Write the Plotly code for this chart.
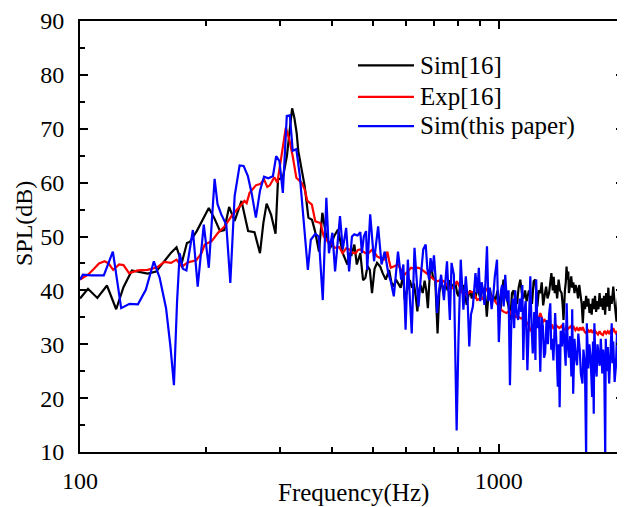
import plotly.graph_objects as go
import math

# ---------------- data ----------------
sim16_freq = [100, 104.5, 110, 116, 122, 127, 133, 139, 145, 152, 159, 165, 170, 175, 180, 183, 190, 197, 203, 209,
              216, 221, 227, 234, 243, 252, 261, 269, 274, 279, 286, 293, 297, 305, 312, 318, 321, 325, 329, 332,
              338, 344, 351, 358, 364, 368, 372, 379, 386, 396, 404, 413, 419, 424, 435, 440, 445, 452, 458, 467,
              474, 480, 486, 492, 498, 505, 512, 521, 528, 537, 547, 554, 561, 568, 575, 583, 591, 596, 604, 613,
              620, 627, 633, 639, 645, 650, 658, 665, 671, 677, 687, 696, 705, 714, 721, 728, 737, 746, 755, 765,
              773, 781, 788, 795, 801, 808, 815, 822, 830, 838, 846, 854, 862, 871, 880, 889, 896, 903, 912, 922,
              929, 936, 944, 952, 961, 970, 980, 993, 1001, 1009, 1017, 1026, 1035, 1045, 1055, 1065, 1075, 1085, 1095, 1105,
              1115, 1125, 1135, 1145, 1155, 1165, 1180, 1190, 1200, 1211, 1222, 1230, 1236, 1246, 1256, 1266, 1276, 1286, 1297, 1307,
              1318, 1327, 1335, 1345, 1352, 1360, 1368, 1378, 1389, 1400, 1412, 1420, 1427, 1438, 1445, 1451, 1458, 1465, 1470, 1479,
              1489, 1497, 1506, 1516, 1525, 1535, 1546, 1556, 1567, 1577, 1587, 1597, 1606, 1616, 1626, 1636, 1646, 1656, 1666, 1676,
              1686, 1697, 1707, 1718, 1729, 1740, 1750, 1761, 1772, 1783, 1794, 1804, 1815, 1826, 1837, 1848, 1860, 1876, 1888, 1899,
              1910, 1920, 1933, 1945, 1956, 1968, 1980, 1995]
sim16_spl = [38.5, 40.3, 38.6, 40.9, 36.5, 40.6, 43.7, 43.4, 43.1, 43.5, 45.5, 47.0, 48.0, 45.1, 48.8, 49.0, 51.0, 53.2, 55.3, 53.5,
             51.0, 51.2, 55.5, 52.9, 56.6, 51.0, 50.8, 46.9, 52.5, 56.1, 54.0, 50.5, 60.6, 60.9, 65.0, 71.0, 73.8, 72.0, 69.3, 65.9,
             62.5, 59.3, 53.5, 53.1, 51.0, 49.4, 47.2, 54.4, 50.7, 47.9, 50.0, 51.3, 49.0, 46.9, 44.8, 46.8, 46.6, 48.5, 44.8, 46.9,
             41.9, 42.3, 44.5, 43.8, 39.5, 44.0, 45.1, 44.4, 43.2, 42.0, 43.8, 41.5, 40.7, 42.0, 41.3, 40.5, 43.0, 38.3, 40.0, 41.9,
             40.5, 41.3, 39.0, 36.1, 40.0, 41.0, 39.5, 41.8, 40.0, 36.7, 45.4, 42.5, 41.9, 32.0, 39.5, 41.8, 40.0, 41.2, 40.0, 41.9,
             40.5, 41.2, 41.3, 39.5, 38.9, 40.5, 39.8, 41.0, 39.5, 37.3, 39.0, 40.0, 38.5, 39.8, 38.5, 41.0, 39.5, 38.6, 40.0, 40.3,
             38.8, 35.1, 39.0, 40.2, 38.5, 39.0, 38.0, 40.0, 38.5, 36.1, 39.5, 42.0, 39.0, 38.5, 37.0, 34.5, 39.5, 40.0, 38.0, 37.5,
             40.5, 42.0, 39.5, 38.5, 40.0, 38.0, 40.0, 38.5, 37.5, 41.7, 42.0, 39.0, 37.0, 40.0, 39.5, 41.5, 37.2, 39.0, 40.7, 38.5,
             39.5, 41.5, 43.2, 40.0, 42.5, 39.5, 41.0, 38.5, 42.0, 40.0, 39.5, 37.5, 34.5, 40.0, 41.5, 44.4, 42.0, 43.5, 39.5, 41.0,
             42.6, 40.5, 41.5, 39.5, 41.0, 40.3, 38.5, 41.0, 39.5, 37.5, 33.9, 38.0, 36.5, 39.0, 37.0, 38.5, 35.8, 37.5, 35.5, 38.5,
             36.5, 39.0, 36.0, 38.0, 36.5, 39.5, 37.0, 38.5, 36.4, 39.0, 35.5, 39.5, 37.0, 40.5, 36.2, 39.0, 37.5, 40.7, 38.0, 36.0,
             34.2, 37.5, 40.0, 40.7, 37.5, 39.5, 38.9, 38.5]

exp16_freq = [100, 104.5, 108, 111, 114.5, 117, 120, 124, 127, 131, 137.5, 145, 153, 159, 165, 170, 175, 181, 189.5, 195,
              198.5, 206, 213.6, 221.6, 230, 238.5, 243, 247, 250, 254, 263, 270, 275, 280, 284, 291, 296, 301, 306, 310,
              316, 322, 328.5, 338, 344, 349, 357.8, 364.6, 375, 382, 393, 397, 405, 416, 423.5, 432, 439.5, 447, 455, 461,
              467, 474, 480, 490, 499, 505, 512, 521, 531, 537, 542, 547, 552, 563, 574, 584, 595, 606, 617, 628,
              640, 651, 662, 675, 687, 700, 712, 726, 739, 752, 764, 775, 784, 794, 808, 823, 840, 855, 871, 888,
              902, 915, 925, 936, 944, 952, 968, 986, 1000, 1014, 1028, 1043, 1060, 1072, 1086, 1100, 1112, 1130, 1143, 1156,
              1170, 1180, 1190, 1200, 1212, 1225, 1236, 1246, 1256, 1266, 1276, 1287, 1297, 1310, 1326, 1340, 1352, 1365, 1379, 1395,
              1412, 1425, 1436, 1450, 1465, 1482, 1497, 1510, 1523, 1536, 1550, 1562, 1575, 1587, 1600, 1616, 1630, 1645, 1660, 1675,
              1690, 1707, 1725, 1740, 1755, 1772, 1788, 1805, 1820, 1835, 1850, 1865, 1876, 1890, 1905, 1927, 1945, 1960, 1980, 1995]
exp16_spl = [42.0, 42.9, 44.0, 45.0, 45.4, 45.0, 43.8, 44.8, 44.7, 43.2, 43.7, 43.8, 44.3, 45.3, 45.1, 45.7, 44.4, 45.2, 45.6, 46.9,
             48.5, 49.1, 50.7, 51.9, 53.8, 55.3, 55.9, 56.6, 56.2, 58.1, 59.5, 59.8, 60.6, 59.2, 59.5, 61.0, 60.0, 64.0, 67.0, 70.2,
             68.0, 64.9, 60.9, 60.0, 58.7, 56.6, 55.9, 52.8, 52.5, 50.0, 48.8, 49.0, 47.9, 48.0, 46.9, 47.8, 47.6, 47.0, 46.9, 47.5,
             47.6, 47.2, 46.9, 47.0, 47.6, 47.0, 46.3, 46.0, 45.7, 45.8, 47.2, 45.5, 44.2, 44.5, 44.8, 43.8, 42.9, 43.5, 44.2, 44.0,
             44.2, 44.0, 43.6, 43.0, 42.6, 42.0, 41.7, 41.9, 41.7, 41.0, 40.4, 40.4, 41.0, 41.7, 40.5, 39.2, 39.3, 39.8, 39.6, 38.2,
             38.5, 38.4, 39.5, 40.4, 39.8, 39.2, 38.5, 37.6, 37.0, 36.4, 36.0, 35.8, 36.2, 35.5, 35.8, 35.0, 35.1, 34.8, 35.0, 34.5,
             33.8, 33.5, 32.4, 33.0, 33.8, 34.5, 35.1, 34.8, 35.8, 35.0, 34.2, 34.5, 34.2, 33.8, 33.3, 33.5, 32.8, 33.6, 33.3, 33.0,
             33.4, 32.8, 32.7, 33.3, 32.9, 33.3, 32.8, 33.2, 32.6, 33.0, 32.5, 33.1, 32.6, 33.2, 32.4, 32.0, 32.8, 32.2, 32.7, 32.1,
             32.6, 32.3, 31.8, 32.4, 31.9, 31.7, 32.5, 32.0, 32.4, 31.9, 32.6, 32.2, 33.0, 32.4, 32.0, 32.6, 32.2, 32.7, 32.3, 32.5]

simpaper_freq = [100, 101.6, 106.4, 114, 119.8, 125.4, 131.3, 137.5, 143.6, 150.1, 155, 160.5, 164.4, 167.6, 170.5, 173, 176, 179.5, 186, 191,
                 197.5, 203, 209.6, 213, 217.4, 223.5, 228.5, 234, 240.5, 245.8, 251.7, 257, 263, 269, 275, 281.6, 288.8, 294, 299.4, 305,
                 311.7, 317, 322, 328.5, 334.9, 341.2, 350, 355.7, 364.6, 371.5, 379.9, 387.4, 393, 400.5, 406.5, 417.6, 424, 432, 439, 446,
                 451.8, 460, 467, 471, 476, 482, 485, 493, 503.6, 515, 524.8, 534, 544.5, 552, 561.4, 574.5, 584.6, 591.6, 598.9, 606.4,
                 619.5, 629, 636, 643, 652, 660, 669, 675, 681.6, 687, 694, 700, 706, 712, 720, 728, 739.5, 752, 764, 771,
                 781, 793, 801, 811, 823, 834, 842, 850, 858, 867, 879.5, 888, 896, 903, 910, 917, 924, 937, 944, 952,
                 961, 970, 978, 990, 1000, 1006, 1012, 1018, 1027, 1036, 1045, 1055, 1063, 1072, 1080, 1088, 1094, 1103, 1112, 1122,
                 1131, 1138, 1144, 1151, 1159, 1170, 1178, 1189, 1197, 1205, 1215, 1223, 1228, 1236, 1247, 1256, 1265, 1274, 1282, 1290,
                 1300, 1310, 1318, 1327, 1334, 1340, 1350, 1363, 1372, 1383, 1390, 1397, 1405, 1415, 1425, 1435, 1444, 1452, 1460, 1470,
                 1480, 1490, 1497, 1505, 1516, 1525, 1537, 1548, 1560, 1570, 1584, 1592, 1605, 1616, 1622, 1635, 1645, 1655, 1662, 1670,
                 1678, 1685, 1691, 1700, 1712, 1720, 1727, 1740, 1752, 1766, 1775, 1785, 1795, 1800, 1810, 1820, 1834, 1845, 1860, 1868,
                 1876, 1890, 1903, 1915, 1927, 1938, 1945, 1953, 1962, 1970, 1980, 1995]
simpaper_spl = [42.0, 42.9, 42.8, 42.8, 47.2, 36.7, 37.5, 37.4, 40.1, 45.4, 42.3, 36.7, 29.6, 22.4, 37.9, 46.9, 44.0, 43.7, 51.2, 40.7,
                52.2, 44.2, 60.7, 56.0, 54.1, 52.2, 41.4, 57.5, 63.2, 63.1, 61.2, 58.0, 53.5, 58.5, 61.1, 60.8, 61.2, 64.9, 64.0, 58.1,
                72.4, 72.5, 65.9, 66.2, 61.2, 53.8, 43.8, 49.4, 50.5, 50.0, 38.2, 57.2, 46.9, 50.7, 43.5, 53.8, 47.6, 51.6, 43.5, 50.0,
                50.4, 50.2, 50.8, 46.9, 50.0, 51.0, 43.8, 54.1, 45.4, 51.9, 44.8, 47.2, 43.2, 41.7, 38.9, 47.2, 42.0, 44.8, 32.7, 45.7,
                32.0, 47.9, 42.0, 37.0, 43.0, 47.6, 48.5, 44.0, 42.0, 46.0, 43.5, 46.5, 42.5, 35.8, 40.0, 42.9, 38.2, 45.4, 34.5, 45.1,
                42.9, 14.0, 30.8, 45.7, 36.4, 42.6, 38.5, 29.6, 35.5, 37.0, 43.2, 39.5, 44.2, 38.0, 41.5, 40.0, 37.3, 48.2, 38.0, 40.5,
                36.5, 39.0, 42.5, 45.7, 30.4, 35.0, 40.0, 41.0, 37.0, 42.9, 38.0, 40.0, 22.4, 35.0, 38.5, 33.0, 40.0, 36.0, 34.5, 38.5,
                36.0, 41.0, 27.1, 36.0, 38.0, 25.2, 33.0, 42.6, 33.5, 28.3, 36.0, 27.1, 42.0, 33.0, 35.1, 24.9, 35.0, 33.3, 27.5, 28.3,
                34.5, 30.0, 35.5, 37.6, 29.0, 31.0, 27.0, 35.8, 30.5, 22.1, 30.0, 18.3, 32.5, 29.6, 34.0, 30.5, 26.0, 37.6, 30.0, 27.5,
                31.5, 24.0, 36.5, 20.8, 31.0, 28.0, 26.1, 32.0, 29.0, 24.5, 22.7, 29.0, 26.5, 9.0, 33.9, 25.5, 30.0, 28.0, 22.0, 20.2,
                30.5, 17.1, 33.9, 27.0, 24.0, 30.0, 28.5, 26.0, 31.0, 24.6, 29.0, 26.0, 9.0, 31.0, 25.0, 29.5, 22.7, 28.5, 33.9, 26.5,
                30.5, 23.0, 25.8, 32.0, 29.5, 19.9, 28.0, 20.2, 31.0, 35.0, 26.0, 30.0]

series_names = ["Sim[16]", "Exp[16]", "Sim(this paper)"]
series_colors = ["#000000", "#ff0000", "#0000ff"]
x_major_ticks = [100, 1000]
x_minor_ticks = [200, 300, 400, 500, 600, 700, 800, 900, 2000]
x_title = "Frequency(Hz)"
y_title = "SPL(dB)"

# ---------------- figure ----------------
FONT = "Liberation Serif, Times New Roman, serif"
fig = go.Figure()
for name, color, xs, ys in zip(series_names, series_colors,
                               [sim16_freq, exp16_freq, simpaper_freq],
                               [sim16_spl, exp16_spl, simpaper_spl]):
    fig.add_trace(go.Scatter(x=xs, y=ys, mode="lines", name=name,
                             line=dict(color=color, width=2.2), showlegend=False))

# hand-placed legend (long sample lines like the original)
legend_y = [0.897, 0.824, 0.756]
for name, color, ly in zip(series_names, series_colors, legend_y):
    fig.add_shape(type="line", xref="paper", yref="paper", x0=0.511, x1=0.614, y0=ly, y1=ly,
                  line=dict(color=color, width=2.2))
    fig.add_annotation(xref="paper", yref="paper", x=0.622, y=ly, text=name, showarrow=False,
                       xanchor="left", yanchor="middle", font=dict(family=FONT, size=25, color="black"))

# axis titles
fig.add_annotation(xref="paper", yref="paper", x=0.502, y=-0.095, text=x_title, showarrow=False,
                   xanchor="center", yanchor="middle", font=dict(family=FONT, size=25, color="black"))
fig.add_annotation(xref="paper", yref="paper", x=-0.104, y=0.53, text=y_title, showarrow=False,
                   textangle=-90, xanchor="center", yanchor="middle", borderpad=0,
                   font=dict(family=FONT, size=24, color="black"))

axis_common = dict(showline=True, linecolor="black", linewidth=2, mirror="ticks",
                   ticks="inside", ticklen=8, tickwidth=1.5, tickcolor="black",
                   showgrid=False, zeroline=False, automargin=False,
                   tickfont=dict(family=FONT, size=24, color="black"))

fig.update_xaxes(type="log", range=[2, math.log10(1990)],
                 tickmode="array", tickvals=x_major_ticks, ticktext=[str(v) for v in x_major_ticks],
                 minor=dict(tickmode="array", tickvals=x_minor_ticks, ticks="inside", ticklen=5,
                            tickwidth=1.5, tickcolor="black", showgrid=False),
                 ticklabelstandoff=6,
                 **axis_common)
fig.update_yaxes(range=[10, 90], tickmode="linear", tick0=10, dtick=10,
                 minor=dict(dtick=5, tick0=10, ticks="inside", ticklen=5, tickwidth=1.5,
                            tickcolor="black", showgrid=False),
                 ticklabelstandoff=9,
                 **axis_common)

# the page body adds an 8px offset, so the figure is 8px smaller than the window
fig.update_layout(width=617, height=499,
                  margin=dict(l=72, r=1, t=13, b=55),
                  paper_bgcolor="white", plot_bgcolor="white",
                  font=dict(family=FONT, color="black"))

fig.write_html("out.html")
